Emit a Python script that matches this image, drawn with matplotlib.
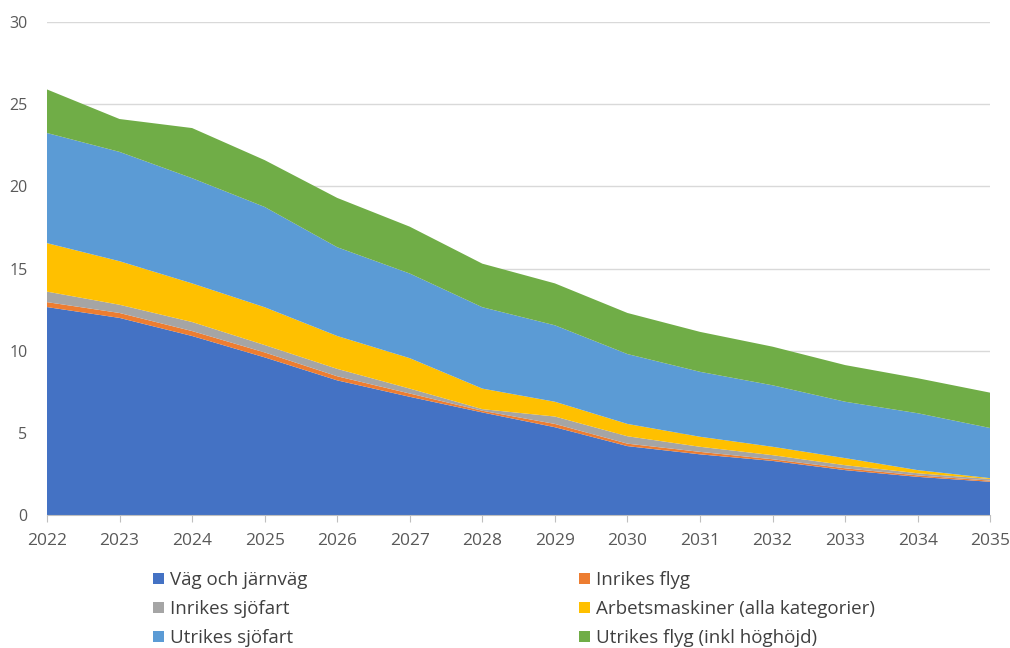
import numpy as np
import matplotlib.pyplot as plt
from matplotlib.patches import Patch

plt.rcParams['font.family'] = ['Open Sans', 'DejaVu Sans']

years = list(range(2022, 2036))
labels = ['Väg och järnväg', 'Inrikes flyg', 'Inrikes sjöfart',
          'Arbetsmaskiner (alla kategorier)', 'Utrikes sjöfart',
          'Utrikes flyg (inkl höghöjd)']
colors = ['#4472C4', '#ED7D31', '#A5A5A5', '#FFC000', '#5B9BD5', '#70AD47']

vag = [12.66, 12.0, 10.9, 9.6, 8.2, 7.2, 6.25, 5.35, 4.2, 3.7, 3.3, 2.74, 2.33, 2.03]
inr_flyg = [0.3, 0.3, 0.3, 0.3, 0.25, 0.2, 0.1, 0.2, 0.15, 0.15, 0.1, 0.11, 0.09, 0.07]
inr_sjo = [0.64, 0.5, 0.55, 0.45, 0.45, 0.3, 0.1, 0.45, 0.45, 0.31, 0.25, 0.19, 0.13, 0.1]
arbets = [2.95, 2.65, 2.35, 2.3, 2.0, 1.85, 1.25, 0.9, 0.75, 0.61, 0.51, 0.43, 0.19, 0.05]
utr_sjo = [6.7, 6.65, 6.4, 6.1, 5.4, 5.15, 4.95, 4.65, 4.25, 3.95, 3.74, 3.43, 3.46, 3.05]
utr_flyg = [2.65, 2.0, 3.05, 2.85, 3.0, 2.85, 2.65, 2.55, 2.5, 2.43, 2.35, 2.23, 2.13, 2.15]

series = [vag, inr_flyg, inr_sjo, arbets, utr_sjo, utr_flyg]

fig = plt.figure(figsize=(10.1, 6.48), dpi=100)
ax = fig.add_axes([0.0465, 0.205, 0.934, 0.761])
ax.stackplot(years, *series, colors=colors, linewidth=0)

ax.set_xlim(2022, 2035)
ax.set_ylim(0, 30)
ax.set_xticks(years)
ax.set_yticks(range(0, 31, 5))
ax.grid(axis='y', color='#d9d9d9', linewidth=1)
ax.set_axisbelow(True)
for s in ['top', 'right', 'left']:
    ax.spines[s].set_visible(False)
ax.spines['bottom'].set_color('#bfbfbf')
ax.tick_params(axis='y', length=0, labelsize=11.5, labelcolor='#595959', pad=14)
ax.tick_params(axis='x', length=5, color='#bfbfbf', labelsize=12.5, labelcolor='#595959', pad=8)

# legend is filled column by column, so reorder to match the row layout
order = [0, 2, 4, 1, 3, 5]
handles = [Patch(facecolor=colors[i], label=labels[i]) for i in order]
fig.legend(handles=handles, ncol=2, loc='lower left', bbox_to_anchor=(0.135, -0.025),
           frameon=False, fontsize=13.5, labelcolor='#404040',
           handlelength=0.55, handleheight=0.55, handletextpad=0.35,
           columnspacing=14.5, labelspacing=0.6)

fig.savefig('out.png', dpi=100)
